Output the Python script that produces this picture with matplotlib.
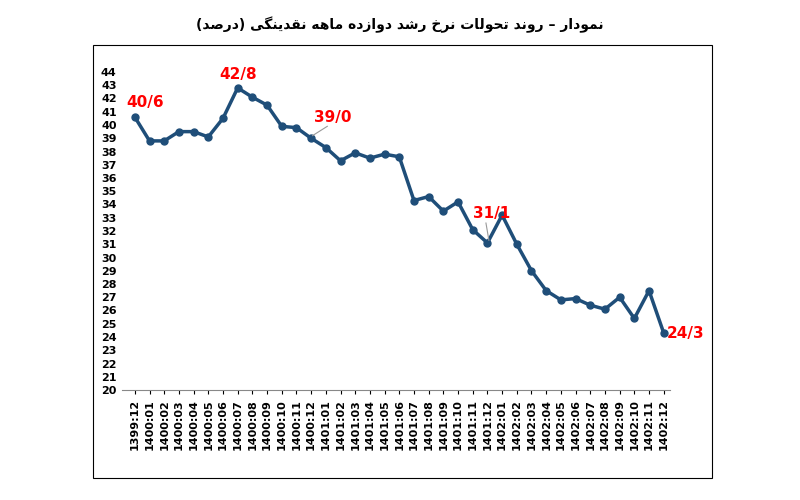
import matplotlib.pyplot as plt
from matplotlib.patches import Rectangle

# --- DANE ---
months = (["1399:12"] + [f"1400:{m:02d}" for m in range(1, 13)]
          + [f"1401:{m:02d}" for m in range(1, 13)]
          + [f"1402:{m:02d}" for m in range(1, 13)])
growth = [40.6, 38.8, 38.8, 39.5, 39.5, 39.1, 40.5, 42.8, 42.1, 41.5, 39.9, 39.8, 39.0,
          38.3, 37.3, 37.9, 37.5, 37.8, 37.6, 34.3, 34.6, 33.5, 34.2, 32.1, 31.1,
          33.2, 31.0, 29.0, 27.5, 26.8, 26.9, 26.4, 26.1, 27.0, 25.4, 27.5, 24.3]
labels = {0: "40/6", 7: "42/8", 12: "39/0", 24: "31/1", 36: "24/3"}
title_fa = "نمودار – روند تحولات نرخ رشد دوازده ماهه نقدینگی (درصد)"

# prosty reshaper dla tekstu perskiego (iso, fin, ini, med)
FORMS = {
    "ا": (0xFE8D, 0xFE8E), "د": (0xFEA9, 0xFEAA), "ر": (0xFEAD, 0xFEAE),
    "ز": (0xFEAF, 0xFEB0), "و": (0xFEED, 0xFEEE),
    "ن": (0xFEE5, 0xFEE6, 0xFEE7, 0xFEE8), "م": (0xFEE1, 0xFEE2, 0xFEE3, 0xFEE4),
    "ت": (0xFE95, 0xFE96, 0xFE97, 0xFE98), "ح": (0xFEA1, 0xFEA2, 0xFEA3, 0xFEA4),
    "ل": (0xFEDD, 0xFEDE, 0xFEDF, 0xFEE0), "خ": (0xFEA5, 0xFEA6, 0xFEA7, 0xFEA8),
    "ش": (0xFEB5, 0xFEB6, 0xFEB7, 0xFEB8), "ه": (0xFEE9, 0xFEEA, 0xFEEB, 0xFEEC),
    "ق": (0xFED5, 0xFED6, 0xFED7, 0xFED8), "ی": (0xFBFC, 0xFBFD, 0xFBFE, 0xFBFF),
    "گ": (0xFB92, 0xFB93, 0xFB94, 0xFB95), "ص": (0xFEB9, 0xFEBA, 0xFEBB, 0xFEBC),
}


def shape(text):
    out = []
    for i, ch in enumerate(text):
        if ch not in FORMS:
            out.append(ch)
            continue
        f = FORMS[ch]
        prev = text[i - 1] if i > 0 else ""
        nxt = text[i + 1] if i + 1 < len(text) else ""
        jp = prev in FORMS and len(FORMS[prev]) == 4
        jn = nxt in FORMS and len(f) == 4
        if jp and jn:
            out.append(chr(f[3]))
        elif jp:
            out.append(chr(f[1]))
        elif jn:
            out.append(chr(f[2]))
        else:
            out.append(chr(f[0]))
    s = "".join(out)[::-1]
    return s.translate(str.maketrans("()", ")("))


color = "#1f4e79"
fig = plt.figure(figsize=(8, 5), dpi=100)
fig.patches.append(Rectangle((0.116, 0.044), 0.774, 0.866, transform=fig.transFigure,
                             fill=False, edgecolor="black", linewidth=0.8))
fig.text(0.5, 0.95, shape(title_fa), ha="center", va="center", fontsize=10,
         fontweight="bold", family="DejaVu Sans")

ax = fig.add_axes([0.152, 0.22, 0.685, 0.636])
x = list(range(len(months)))
ax.plot(x, growth, color=color, linewidth=2.5, marker="o", markersize=5)
ax.set_ylim(20, 44)
ax.set_yticks(range(20, 45))
ax.set_xlim(-0.9, len(months) - 0.6)
ax.set_xticks(x)
ax.set_xticklabels(months, rotation=90, fontsize=8, fontweight="bold")
ax.tick_params(axis="y", labelsize=8, length=0)
ax.tick_params(axis="x", length=3)
for lab in ax.get_yticklabels():
    lab.set_fontweight("bold")
for s in ["top", "right"]:
    ax.spines[s].set_visible(False)
ax.spines["left"].set_visible(False)
ax.spines["bottom"].set_color("#888888")

offsets = {0: (0.7, 1.1), 7: (0, 1.0), 12: (1.5, 1.6), 24: (0.3, 2.2), 36: (1.5, 0)}
for i, txt in labels.items():
    dx, dy = offsets[i]
    tx, ty = x[i] + dx, growth[i] + dy
    if i in (12, 24):
        ax.plot([x[i] + 0.1, tx - 0.4], [growth[i] + 0.2, ty - 0.7], color="#999999", linewidth=0.8)
    ax.text(tx, ty, txt, color="red", fontsize=11, fontweight="bold",
            ha="center", va="center", clip_on=False)

fig.savefig("out.png")
